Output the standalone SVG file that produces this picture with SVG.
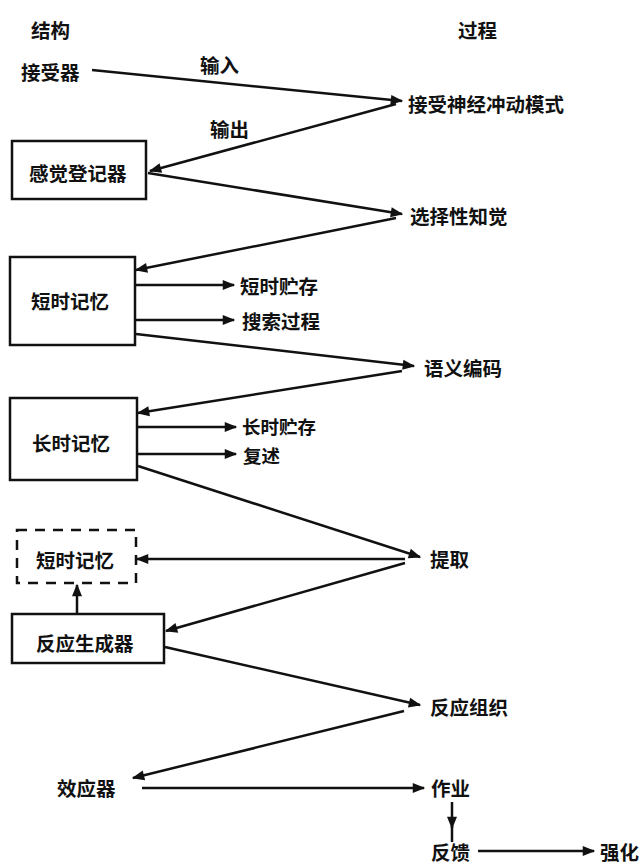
<svg xmlns="http://www.w3.org/2000/svg" width="640" height="864" viewBox="0 0 640 864">
<style>
text{font-family:"Noto Sans CJK SC","Noto Sans CJK JP",sans-serif;font-weight:bold;font-size:19.5px;fill:#111;dominant-baseline:central}
.sm{font-size:18.5px}
.ln{stroke:#111;stroke-width:2.5;fill:none}
.box{stroke:#111;stroke-width:2.5;fill:none}
.dash{stroke:#111;stroke-width:2.5;fill:none;stroke-dasharray:10 8}
</style>
<defs>
<marker id="a" viewBox="0 0 10 10" refX="9" refY="5" markerWidth="6" markerHeight="5" orient="auto" markerUnits="strokeWidth"><path d="M0 1 L10 5 L0 9 Z" fill="#111"/></marker>
</defs>
<rect width="640" height="864" fill="#fff"/>
<g id="headers">
<text x="31" y="29">结构</text>
<text x="458" y="29">过程</text>
</g>
<g id="n-receptor"><text x="21" y="71">接受器</text></g>
<g id="n-pattern"><text x="408" y="103">接受神经冲动模式</text></g>
<g id="n-sensory"><rect class="box" x="12" y="141" width="134" height="58"/><text x="29" y="172">感觉登记器</text></g>
<g id="n-selective"><text x="410" y="215">选择性知觉</text></g>
<g id="n-stm"><rect class="box" x="10" y="257" width="125" height="88"/><text x="31" y="300">短时记忆</text></g>
<g id="n-stm-store"><text x="240" y="285">短时贮存</text></g>
<g id="n-search"><text x="242" y="320">搜索过程</text></g>
<g id="n-semantic"><text x="424" y="367">语义编码</text></g>
<g id="n-ltm"><rect class="box" x="10" y="398" width="127" height="82"/><text x="32" y="442">长时记忆</text></g>
<g id="n-ltm-store"><text class="sm" x="242" y="426">长时贮存</text></g>
<g id="n-rehearse"><text class="sm" x="243" y="455">复述</text></g>
<g id="n-retrieve"><text x="430" y="558">提取</text></g>
<g id="n-stm2"><rect class="dash" x="17" y="530" width="119" height="53"/><text x="36" y="559">短时记忆</text></g>
<g id="n-generator"><rect class="box" x="12" y="614" width="152" height="49"/><text x="36" y="642">反应生成器</text></g>
<g id="n-organize"><text x="430" y="706">反应组织</text></g>
<g id="n-effector"><text x="57" y="787">效应器</text></g>
<g id="n-task"><text x="431" y="787">作业</text></g>
<g id="n-feedback"><text x="431" y="851">反馈</text></g>
<g id="n-reinforce"><text x="600" y="851">强化</text></g>
<g id="connectors">
<line class="ln" x1="92" y1="70" x2="402" y2="101" marker-end="url(#a)"/>
<text x="200" y="64">输入</text>
<line class="ln" x1="396" y1="104" x2="150" y2="171" marker-end="url(#a)"/>
<text x="210" y="128">输出</text>
<line class="ln" x1="148" y1="173" x2="402" y2="214" marker-end="url(#a)"/>
<line class="ln" x1="396" y1="218" x2="136" y2="270" marker-end="url(#a)"/>
<line class="ln" x1="135" y1="285" x2="234" y2="285" marker-end="url(#a)"/>
<line class="ln" x1="135" y1="320" x2="234" y2="320" marker-end="url(#a)"/>
<line class="ln" x1="136" y1="334" x2="414" y2="366" marker-end="url(#a)"/>
<line class="ln" x1="402" y1="371" x2="138" y2="413" marker-end="url(#a)"/>
<line class="ln" x1="137" y1="427" x2="236" y2="427" marker-end="url(#a)"/>
<line class="ln" x1="137" y1="454" x2="236" y2="454" marker-end="url(#a)"/>
<line class="ln" x1="138" y1="466" x2="420" y2="557" marker-end="url(#a)"/>
<line class="ln" x1="405" y1="559" x2="137" y2="559" marker-end="url(#a)"/>
<line class="ln" x1="77" y1="614" x2="77" y2="585" marker-end="url(#a)"/>
<line class="ln" x1="405" y1="563" x2="166" y2="631" marker-end="url(#a)"/>
<line class="ln" x1="165" y1="647" x2="420" y2="705" marker-end="url(#a)"/>
<line class="ln" x1="404" y1="711" x2="133" y2="778" marker-end="url(#a)"/>
<line class="ln" x1="142" y1="788" x2="424" y2="788" marker-end="url(#a)"/>
<path class="ln" d="M452 802 L452 828" marker-end="url(#a)"/>
<line class="ln" x1="452" y1="826" x2="452" y2="842"/>
<line class="ln" x1="478" y1="851" x2="594" y2="851" marker-end="url(#a)"/>
</g>
</svg>
